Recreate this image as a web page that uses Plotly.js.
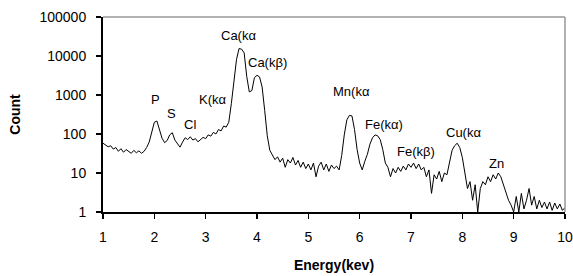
<!DOCTYPE html>
<html>
<head>
<meta charset="utf-8">
<script src="https://cdn.plot.ly/plotly-3.0.1.min.js"></script>
<style>html,body{margin:0;padding:0;background:#fff}#chart{width:573px;height:276px}</style>
</head>
<body>
<div id="chart"></div>
<script>
// Energy grid: starts at 1.00 keV, step 0.05 keV (via x0/dx)
const energyStart = 1.0;
const energyStep = 0.05;
// Counts, one row per keV (20 values each), final value at 10.00 keV
const counts = [
  58, 52, 47, 50, 41, 45, 36, 42, 34, 40, 36, 32, 38, 33, 37, 32, 36, 45, 62, 110,      // 1.00-1.95
  200, 215, 130, 78, 60, 68, 95, 108, 70, 55, 46, 62, 80, 72, 85, 70, 76, 63, 70, 82,   // 2.00-2.95
  76, 95, 88, 110, 100, 130, 120, 160, 150, 200, 600, 2600, 8000, 15500, 15000, 12000, 3000, 1200, 1300, 2800, // 3.00-3.95
  3200, 2900, 1600, 400, 90, 38, 28, 22, 26, 19, 24, 14, 22, 18, 25, 16, 21, 14, 19, 13, // 4.00-4.95
  17, 12, 18, 8, 15, 19, 12, 17, 11, 16, 13, 15, 12, 28, 95, 230, 300, 290, 130, 40,    // 5.00-5.95
  18, 12, 20, 30, 55, 80, 95, 90, 72, 40, 18, 14, 8, 13, 10, 14, 11, 15, 12, 17,        // 6.00-6.95
  14, 18, 13, 17, 12, 14, 8, 12, 3, 9, 7, 11, 6, 10, 9, 20, 38, 50, 58, 45,             // 7.00-7.95
  25, 10, 4, 6, 2, 5, 1, 4, 6, 5, 8, 6, 9, 7, 10, 8, 5, 3, 2, 1.5,                      // 8.00-8.95
  1, 2.5, 1, 3, 1.2, 2, 4, 1.5, 2.5, 1.2, 2, 1.3, 1.8, 1.2, 1.8, 1.1, 1.7, 1.2, 1.6, 1.1, // 9.00-9.95
  1.3                                                                                    // 10.00
];
const peakLabels = ["P", "S", "Cl", "K(kα", "Ca(kα", "Ca(kβ)", "Mn(kα", "Fe(kα)", "Fe(kβ)", "Cu(kα", "Zn"];
const labelEnergy = [2.03, 2.34, 2.70, 3.14, 3.63, 4.20, 5.85, 6.47, 7.10, 8.02, 8.67];
const labelCount = [750, 340, 180, 750, 34000, 7000, 1200, 180, 35, 112, 18];
const xTicks = [1, 2, 3, 4, 5, 6, 7, 8, 9, 10];
const yTicks = [1, 10, 100, 1000, 10000, 100000];
const yTickText = ["1", "10", "100", "1000", "10000", "100000"];

const font = "Arial, 'Liberation Sans', sans-serif";

const trace = {
  type: "scatter",
  mode: "lines",
  x0: energyStart,
  dx: energyStep,
  y: counts,
  line: {color: "#000", width: 1},
  hoverinfo: "skip"
};

const annotations = peakLabels.map((t, i) => ({
  x: labelEnergy[i],
  y: Math.log10(labelCount[i]),
  xref: "x", yref: "y",
  text: t,
  showarrow: false,
  font: {family: font, size: 13, color: "#000"}
}));

const layout = {
  width: 573, height: 276,
  margin: {l: 103, r: 8, t: 17, b: 64},
  paper_bgcolor: "#fff",
  plot_bgcolor: "#fff",
  showlegend: false,
  xaxis: {
    range: [1, 10],
    tickmode: "array",
    tickvals: xTicks,
    ticks: "outside", ticklen: 5, tickwidth: 1.5, tickcolor: "#000",
    showline: true, linecolor: "#000", linewidth: 2,
    showgrid: false, zeroline: false,
    tickfont: {family: font, size: 14, color: "#000"},
    ticklabelstandoff: 6,
    title: {text: "Energy(kev)", font: {family: font, size: 14, color: "#000", weight: "bold"}, standoff: 16}
  },
  yaxis: {
    type: "log",
    range: [0, 5],
    tickmode: "array",
    tickvals: yTicks,
    ticktext: yTickText,
    ticks: "outside", ticklen: 5, tickwidth: 1.5, tickcolor: "#000",
    showline: true, linecolor: "#000", linewidth: 2,
    showgrid: false, zeroline: false,
    tickfont: {family: font, size: 14, color: "#000"},
    ticklabelstandoff: 7,
    title: {text: "Count", font: {family: font, size: 14, color: "#000", weight: "bold"}, standoff: 16}
  },
  shapes: [
    {type: "line", xref: "paper", yref: "paper", x0: 0, x1: 1, y0: 1, y1: 1, line: {color: "#999", width: 1.5}},
    {type: "line", xref: "paper", yref: "paper", x0: 1, x1: 1, y0: 0, y1: 1, line: {color: "#999", width: 1.5}}
  ],
  annotations: annotations
};

Plotly.newPlot("chart", [trace], layout, {staticPlot: true, displayModeBar: false});
</script>
</body>
</html>
